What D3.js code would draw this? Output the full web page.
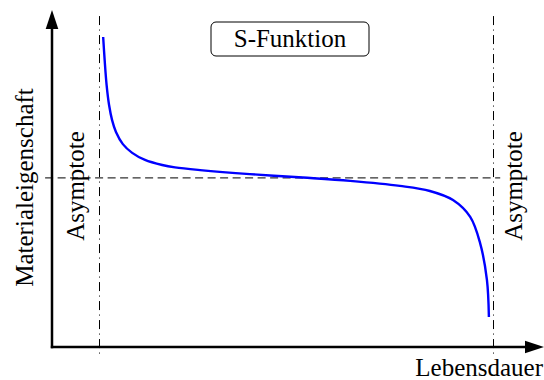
<!DOCTYPE html>
<html><head><meta charset="utf-8">
<script src="https://cdn.jsdelivr.net/npm/d3@7"></script>
<style>body{margin:0;background:#fff}svg{display:block}</style>
</head><body>
<script>
// Data (arbitrary units 0..100)
const lifeValues = [10.4,10.7,11.1,11.6,12.2,13.0,14.4,16.3,18.9,22.4,25.0,30.1,40.2,51.0,60.6,70.7,76.8,81.5,85.0,87.0,88.4,88.8];
const propValues = [92.0,85.2,77.7,71.8,67.4,63.8,60.2,57.6,55.5,54.0,53.3,52.5,51.3,50.3,49.3,47.8,46.3,43.6,38.6,30.9,19.9,8.9];
const asymptotesX = [9.65, 89.7];
const asymptoteY = 50.2;
const asymptoteLabels = ["Asymptote","Asymptote"];
const title = "S-Funktion";
const xLabel = "Lebensdauer";
const yLabel = "Materialeigenschaft";

const FONT = "'Liberation Serif', 'Times New Roman', 'DejaVu Serif', serif";
const W = 544, H = 380;
const svg = d3.select("body").append("svg").attr("width", W).attr("height", H);
const x = d3.scaleLinear().domain([0,100]).range([52, 544]);
const y = d3.scaleLinear().domain([0,100]).range([347, 10]);

// horizontal dashed asymptote
svg.append("line")
  .attr("x1", x(-1.4)).attr("x2", x(91.1))
  .attr("y1", y(asymptoteY)).attr("y2", y(asymptoteY))
  .attr("stroke", "#333").attr("stroke-width", 1.1).attr("stroke-dasharray", "8,4.5");

// vertical dash-dot asymptotes
asymptotesX.forEach(v => {
  svg.append("line")
    .attr("x1", Math.round(x(v)) + 0.5).attr("x2", Math.round(x(v)) + 0.5)
    .attr("y1", y(98.2)).attr("y2", y(-2.4))
    .attr("stroke", "#000").attr("stroke-width", 1).attr("stroke-dasharray", "9,4.5,1,4.5");
});

// axes
const x0 = x(0), y0 = y(0);
svg.append("line").attr("x1", x0).attr("x2", x0).attr("y1", y0 + 1.2).attr("y2", y(100) + 15)
  .attr("stroke", "#000").attr("stroke-width", 2.5);
svg.append("path").attr("d", `M${x0},${y(100)} L${x0-6.3},${y(100)+19} L${x0+6.3},${y(100)+19} Z`).attr("fill", "#000");
svg.append("line").attr("x1", x0 - 1.2).attr("x2", x(100) - 15).attr("y1", y0).attr("y2", y0)
  .attr("stroke", "#000").attr("stroke-width", 2.5);
svg.append("path").attr("d", `M${x(100)},${y0} L${x(100)-19},${y0-6.3} L${x(100)-19},${y0+6.3} Z`).attr("fill", "#000");

// curve
const pts = lifeValues.map((v,i) => [v, propValues[i]]);
svg.append("path").datum(pts)
  .attr("d", d3.line().x(d => x(d[0])).y(d => y(d[1])).curve(d3.curveCatmullRom.alpha(0.5)))
  .attr("fill", "none").attr("stroke", "#0000ff").attr("stroke-width", 2.4);

// title box
svg.append("rect").attr("x", 211).attr("y", 22).attr("width", 158).attr("height", 34)
  .attr("rx", 5).attr("fill", "#fff").attr("stroke", "#000").attr("stroke-width", 1);
svg.append("text").attr("x", 290).attr("y", 47).attr("text-anchor", "middle")
  .attr("font-family", FONT).attr("font-size", 25).text(title);

// labels
svg.append("text").attr("transform", "translate(33,187.5) rotate(-90)")
  .attr("text-anchor", "middle").attr("font-family", FONT).attr("font-size", 25).text(yLabel);
svg.append("text").attr("x", 543).attr("y", 376).attr("text-anchor", "end")
  .attr("font-family", FONT).attr("font-size", 25).text(xLabel);
const labX = [84, 522];
asymptoteLabels.forEach((t,i) => {
  svg.append("text").attr("transform", `translate(${labX[i]},186) rotate(-90)`)
    .attr("text-anchor", "middle").attr("font-family", FONT).attr("font-size", 25).text(t);
});
</script>
</body></html>
